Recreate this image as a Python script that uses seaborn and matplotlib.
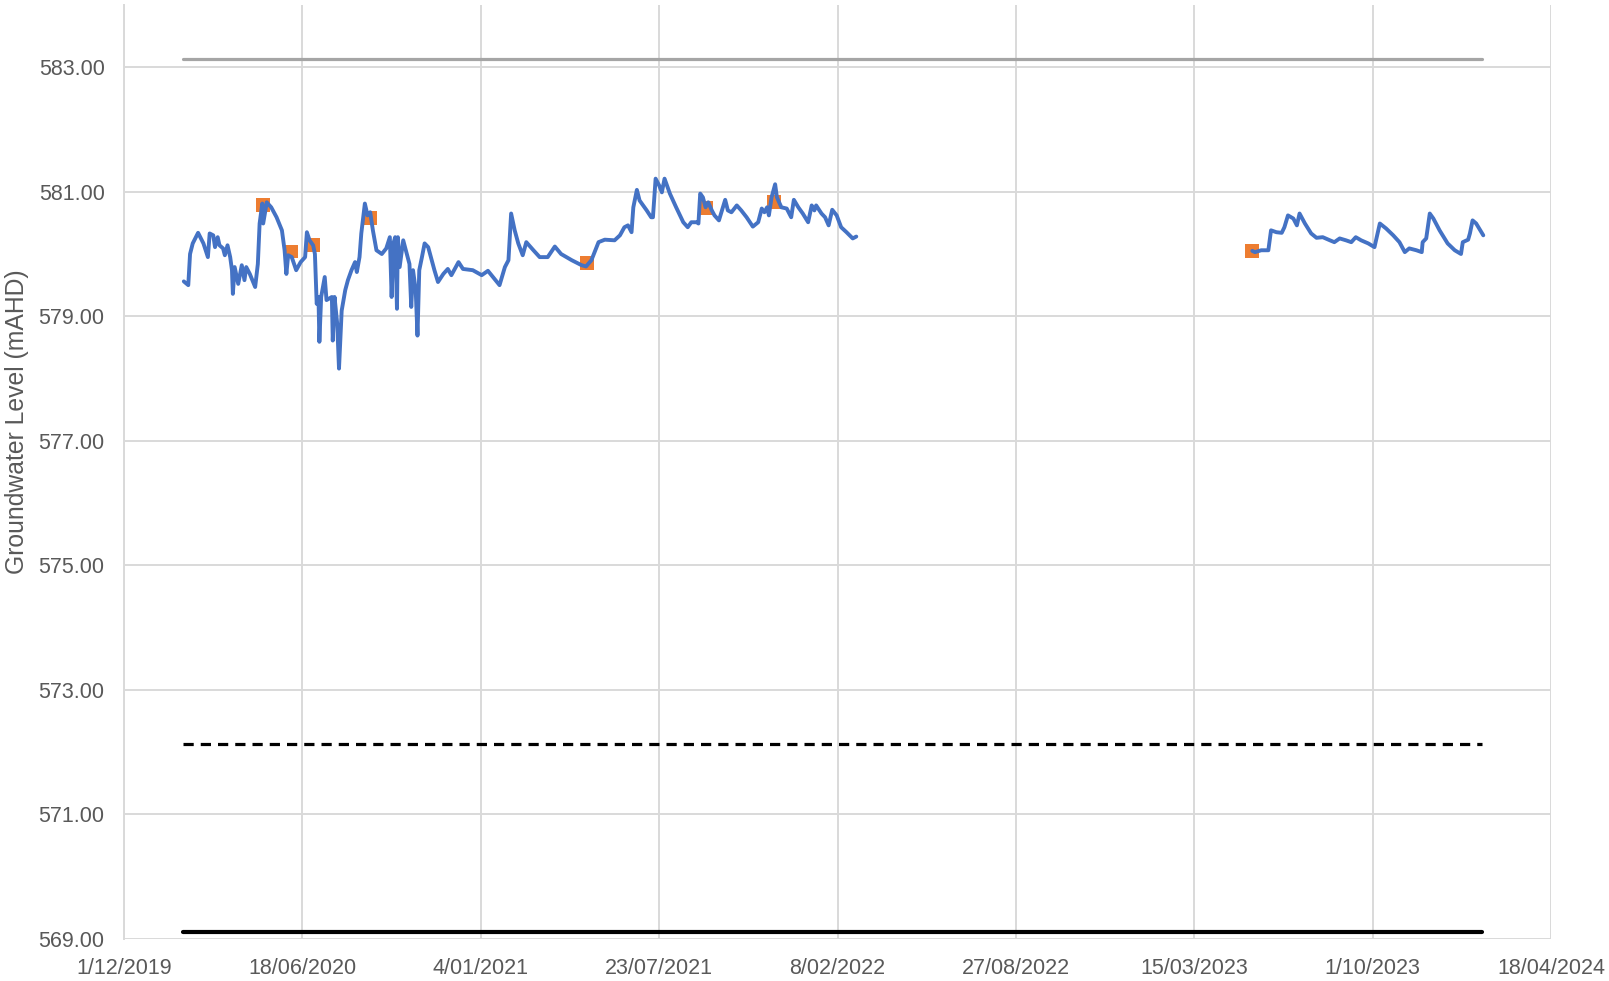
import datetime as dt
import numpy as np
import pandas as pd
import matplotlib
matplotlib.use("Agg")
import matplotlib.pyplot as plt
import matplotlib.dates as mdates
from matplotlib.ticker import FuncFormatter, FixedLocator
import seaborn as sns

# ---------------- data ----------------
BASE_DATE = "2019-12-01"

# logger record, segment 1 (days after BASE_DATE, mAHD)
seg1_days = [67, 72, 74, 77, 83, 89, 94, 96, 100, 102, 105, 107, 111, 113, 116, 119, 121, 122, 124, 128,
             132, 135, 137, 141, 147, 150, 152, 155, 156, 160, 165, 171, 177, 180, 182, 184, 188, 193, 198, 203,
             205, 208, 212, 214, 216, 218, 219, 221, 225, 227, 233, 234, 236, 239, 241, 244, 248, 251, 255, 259,
             261, 264, 266, 270, 273, 276, 279, 283, 289, 294, 298, 300, 302, 304, 306, 307, 309, 313, 317, 320,
             322, 324, 327, 329, 331, 334, 337, 341, 345, 348, 352, 358, 363, 367, 375, 380, 391, 401, 408, 412,
             421, 427, 431, 434, 438, 442, 447, 451, 459, 466, 475, 483, 490, 502, 513, 518, 524, 532, 539, 550,
             556, 561, 565, 569, 571, 575, 578, 586, 591, 593, 596, 600, 603, 606, 612, 619, 627, 632, 636, 642,
             644, 646, 649, 652, 655, 659, 662, 667, 674, 677, 681, 687, 692, 698, 705, 711, 715, 718, 721, 723,
             726, 730, 732, 737, 743, 748, 751, 756, 761, 767, 771, 774, 776, 782, 786, 790, 794, 799, 804, 810,
             817, 821]
seg1_level = [579.56, 579.50, 580.00, 580.17, 580.34, 580.17, 579.95, 580.33, 580.30, 580.11, 580.27, 580.14,
              580.09, 579.98, 580.14, 579.95, 579.74, 579.36, 579.79, 579.52, 579.82, 579.58, 579.79, 579.68,
              579.47, 579.84, 580.49, 580.81, 580.49, 580.83, 580.75, 580.59, 580.38, 580.06, 579.68, 579.98,
              579.95, 579.74, 579.87, 579.95, 580.35, 580.22, 580.14, 580.00, 579.20, 579.31, 578.59, 579.31,
              579.63, 579.26, 579.31, 578.61, 579.31, 578.88, 578.16, 579.09, 579.42, 579.58, 579.74, 579.87,
              579.71, 579.95, 580.33, 580.81, 580.62, 580.67, 580.38, 580.06, 580.00, 580.09, 580.27, 579.31,
              580.17, 580.27, 579.12, 580.27, 579.79, 580.22, 580.00, 579.84, 579.15, 579.74, 579.42, 578.69,
              579.74, 579.95, 580.17, 580.11, 579.90, 579.74, 579.55, 579.68, 579.76, 579.66, 579.87, 579.76,
              579.74, 579.66, 579.73, 579.66, 579.50, 579.79, 579.90, 580.65, 580.38, 580.17, 579.98, 580.19,
              580.06, 579.95, 579.95, 580.12, 580.00, 579.90, 579.82, 579.80, 579.90, 580.19, 580.23, 580.22,
              580.30, 580.43, 580.46, 580.35, 580.75, 581.03, 580.86, 580.70, 580.59, 580.59, 581.21, 581.10,
              580.99, 581.21, 580.97, 580.75, 580.51, 580.43, 580.51, 580.51, 580.49, 580.97, 580.91, 580.75,
              580.83, 580.70, 580.62, 580.54, 580.87, 580.70, 580.67, 580.78, 580.70, 580.59, 580.44, 580.51,
              580.73, 580.67, 580.75, 580.62, 580.91, 581.12, 580.91, 580.75, 580.73, 580.59, 580.87, 580.75,
              580.65, 580.51, 580.78, 580.70, 580.78, 580.65, 580.59, 580.46, 580.71, 580.62, 580.43, 580.35,
              580.25, 580.28]

# logger record, segment 2
seg2_days = [1265, 1268, 1275, 1283, 1286, 1292, 1298, 1301, 1305, 1311, 1315, 1318, 1324, 1331, 1337, 1344,
             1352, 1357, 1363, 1370, 1376, 1381, 1387, 1395, 1402, 1408, 1415, 1423, 1430, 1436, 1441, 1449,
             1455, 1456, 1460, 1464, 1468, 1475, 1484, 1492, 1499, 1501, 1507, 1509, 1512, 1516, 1524]
seg2_level = [580.05, 580.03, 580.06, 580.06, 580.38, 580.35, 580.34, 580.43, 580.62, 580.57, 580.46, 580.65,
              580.49, 580.33, 580.26, 580.27, 580.22, 580.19, 580.25, 580.22, 580.19, 580.27, 580.22, 580.17,
              580.11, 580.49, 580.41, 580.30, 580.19, 580.03, 580.09, 580.06, 580.03, 580.19, 580.25, 580.65,
              580.57, 580.38, 580.17, 580.06, 580.00, 580.19, 580.23, 580.33, 580.54, 580.49, 580.30]

# manual dip readings
manual_days = [156, 187, 212, 276, 519, 652, 729, 1265]
manual_level = [580.79, 580.04, 580.15, 580.58, 579.85, 580.74, 580.83, 580.05]

# reference levels (start/end day, level)
ref_days = [66, 1523]
ground_level = 583.13
trigger_level = 572.13
base_level = 569.12

y_ticks = [569, 571, 573, 575, 577, 579, 581, 583]
x_tick_step_days = 200
x_span_days = 1600
y_label = "Groundwater Level (mAHD)"

# ---------------- build frames ----------------
base = pd.Timestamp(BASE_DATE)
to_date = lambda days: [base + pd.Timedelta(days=int(d)) for d in days]

logger = pd.DataFrame({
    "date": to_date(seg1_days) + to_date(seg2_days),
    "level": seg1_level + seg2_level,
    "segment": [1] * len(seg1_days) + [2] * len(seg2_days),
})
manual = pd.DataFrame({"date": to_date(manual_days), "level": manual_level})

def ref_frame(level):
    return pd.DataFrame({"date": to_date(ref_days), "level": [level, level]})

# ---------------- style ----------------
sns.set_theme(style="white")
plt.rcParams["font.family"] = ["Liberation Sans", "DejaVu Sans"]
TEXT = "#595959"
GRID = "#D9D9D9"

fig = plt.figure(figsize=(16.09, 9.81), dpi=100)
ax = fig.add_axes([0.0771, 0.0428, 0.8869, 0.9522])

sns.lineplot(data=ref_frame(ground_level), x="date", y="level", ax=ax,
             color="#A5A5A5", linewidth=2.3, zorder=3)
sns.lineplot(data=ref_frame(trigger_level), x="date", y="level", ax=ax,
             color="black", linewidth=2.3, linestyle=(0, (3.2, 2.2)), zorder=3)
sns.lineplot(data=ref_frame(base_level), x="date", y="level", ax=ax,
             color="black", linewidth=3.0, zorder=3)

sns.scatterplot(data=manual, x="date", y="level", ax=ax, marker="s", s=100,
                color="#ED7D31", edgecolor="none", zorder=4)
sns.lineplot(data=logger, x="date", y="level", units="segment", estimator=None,
             ax=ax, color="#4472C4", linewidth=2.8, zorder=5)

# ---------------- axes ----------------
ax.set_ylim(569, 584)
ax.set_yticks(y_ticks)
ax.yaxis.set_major_formatter(FuncFormatter(lambda v, p: f"{v:.2f}"))

x_ticks = [base + pd.Timedelta(days=k) for k in range(0, x_span_days + 1, x_tick_step_days)]
ax.set_xlim(mdates.date2num(x_ticks[0]), mdates.date2num(x_ticks[-1]))
ax.xaxis.set_major_locator(FixedLocator(mdates.date2num(x_ticks)))
ax.xaxis.set_major_formatter(FuncFormatter(
    lambda v, p: (lambda d: f"{d.day}/{d.month:02d}/{d.year}")(mdates.num2date(v))))

ax.grid(True, color=GRID, linewidth=1.4, zorder=0)
ax.set_axisbelow(True)
for s in ["top", "right", "bottom"]:
    ax.spines[s].set_visible(False)
ax.spines["left"].set_color(GRID)
ax.spines["left"].set_linewidth(1.4)

ax.tick_params(axis="both", length=0, labelsize=15.5, colors=TEXT)
ax.tick_params(axis="y", pad=14)
ax.tick_params(axis="x", pad=14)
ax.set_xlabel("")
ax.set_ylabel(y_label, fontsize=17.8, color=TEXT)
ax.yaxis.set_label_coords(-0.0665, 0.554)
if ax.get_legend():
    ax.get_legend().remove()

fig.savefig("out.png", dpi=100)
